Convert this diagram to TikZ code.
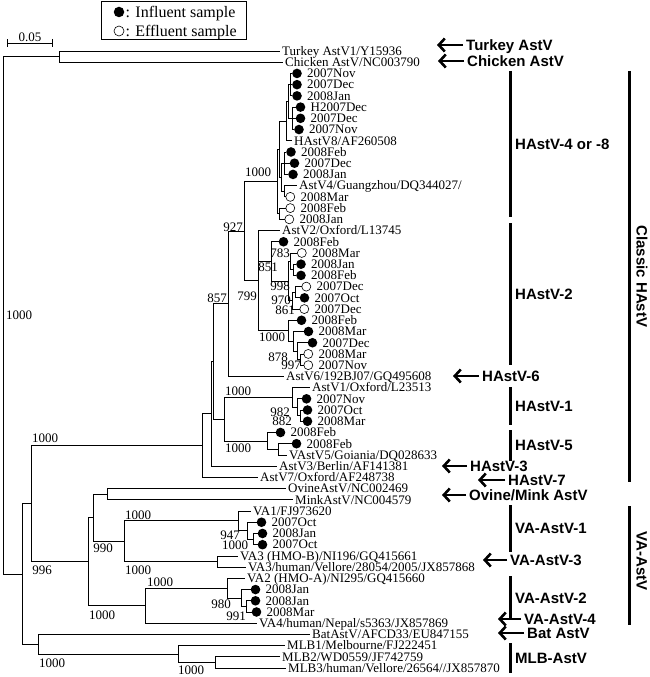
\documentclass[tikz,border=0pt]{standalone}
\usepackage{fontspec}
\setmainfont{Liberation Serif}
\newfontfamily\cladefont{Liberation Sans}
\usetikzlibrary{positioning,arrows.meta}

\begin{document}
\begin{tikzpicture}[
  x=1pt, y=-1pt,
  branch/.style={line width=0.8pt},
  taxon/.style={font=\fontsize{13}{13}\selectfont, inner sep=0pt,
                text height=8.6pt, text depth=0pt, anchor=west},
  boot/.style={font=\fontsize{13}{13}\selectfont, inner sep=0pt,
               text height=8.6pt, text depth=0pt},
  leaff/.style={circle, fill=black, minimum size=9.6pt, inner sep=0pt, anchor=west},
  leafo/.style={circle, draw=black, line width=0.6pt, minimum size=9pt,
                inner sep=0pt, anchor=west},
  leafn/.style={inner sep=0pt, minimum size=0pt, anchor=west},
  txtf/.style={xshift=15pt}, txto/.style={xshift=15pt}, txtn/.style={xshift=2pt},
  legtext/.style={font=\fontsize{16}{16}\selectfont, inner sep=0pt,
                  text height=10.6pt, text depth=0pt},
  clade/.style={font=\cladefont\bfseries\fontsize{15}{15}\selectfont,
                inner sep=0pt, text height=10.7pt, text depth=0pt},
  cladebar/.style={line width=3pt},
  cladearrow/.style={-{Straight Barb[length=6pt, width=13pt]}, line width=2.6pt,
                     shorten <=3pt},
]
\useasboundingbox (0,0) rectangle (650,677);

% ================= legend and scale =================
\node[draw, line width=1.2pt, minimum width=145.7pt, minimum height=37.6pt,
      inner sep=0pt] (legend) at (174,20.5) {};
\node[leaff, anchor=center, minimum size=10.5pt] (lg1) at (119,12) {};
\node[legtext, right=1pt of lg1] (lgt1) {: Influent sample};
\node[leafo, anchor=center, minimum size=10pt] (lg2) at (119,31) {};
\node[legtext, right=1pt of lg2] (lgt2) {: Effluent sample};

\coordinate (scaleL) at (7,43);
\coordinate (scaleR) at (53,43);
\draw[{Bar[width=8pt]}-{Bar[width=8pt]}, line width=0.8pt] (scaleL) -- (scaleR);
\node[boot] (scale) at (30,37.5) {0.05};

% ================= the tree (y in leaf rows) =================
\begin{scope}[shift={(0,51)}, y=-11.22pt]
  % leaves: row / tip x / sample kind / label
  \foreach \r/\x/\k/\lab in {
    0/280/n/{Turkey AstV1/Y15936}, 1/283/n/{Chicken AstV/NC003790},
    2/292/f/2007Nov, 3/292/f/2007Dec, 4/292/f/2008Jan,
    5/295.5/f/H2007Dec, 6/295.5/f/2007Dec, 7/294/f/2007Nov,
    8/292/n/{HAstV8/AF260508},
    9/286/f/2008Feb, 10/289.5/f/2007Dec, 11/288/f/2008Jan,
    12/297/n/{AstV4/Guangzhou/DQ344027/},
    13/285.5/o/2008Mar, 14/285.5/o/2008Feb, 15/284.5/o/2008Jan,
    16/280/n/{AstV2/Oxford/L13745},
    17/278.5/f/2008Feb, 18/297/o/2008Mar, 19/296/f/2008Jan, 20/296/f/2008Feb,
    21/301.5/o/2007Dec, 22/299.5/f/2007Oct, 23/299.5/o/2007Dec,
    24/296.5/f/2008Feb, 25/303.5/f/2008Mar, 26/307.5/f/2007Dec,
    27/303.5/o/2008Mar, 28/303.5/o/2007Nov,
    29/284/n/{AstV6/192BJ07/GQ495608},
    30/310/n/{AstV1/Oxford/L23513},
    31/301.5/f/2007Nov, 32/302.5/f/2007Oct, 33/302.5/f/2008Mar,
    34/275.5/f/2008Feb, 35/291.5/f/2008Feb,
    36/287/n/{VAstV5/Goiania/DQ028633},
    37/277/n/{AstV3/Berlin/AF141381}, 38/258/n/{AstV7/Oxford/AF248738},
    39/286/n/{OvineAstV/NC002469}, 40/293/n/{MinkAstV/NC004579},
    41/251/n/{VA1/FJ973620},
    42/256.5/f/2007Oct, 43/257.5/f/2008Jan, 44/257.5/f/2007Oct,
    45/238/n/{VA3 (HMO-B)/NI196/GQ415661},
    46/246/n/{VA3/human/Vellore/28054/2005/JX857868},
    47/245/n/{VA2 (HMO-A)/NI295/GQ415660},
    48/250.5/f/2008Jan, 49/250.5/f/2008Jan, 50/251.5/f/2008Mar,
    51/257/n/{VA4/human/Nepal/s5363/JX857869},
    52/310/n/{BatAstV/AFCD33/EU847155},
    53/285/n/{MLB1/Melbourne/FJ222451},
    54/280/n/{MLB2/WD0559/JF742759},
    55/286/n/{MLB3/human/Vellore/26564//JX857870}}{
    \coordinate (t\r) at (\x,\r);
    \node[leaf\k] (c\r) at (t\r) {};
    \node[taxon, txt\k] (l\r) at (t\r) {\lab};
  }

  % internal nodes
  \foreach \n/\x/\y in {
    root/3/23.554, avian/59/0.5, mamall/22/46.608, mammal/31/40.341,
    classic/202/35.167, classic2/211/32.334, classic3/213/27.668,
    hast6/228/22.523, hast482/244/16.047, hast48/277/11.625,
    n48a/290/3, n48b/292.5/6, n48c/288/4.5, n48d/286.5/6.25,
    n48e/284/10, n48f/284/12.5, n48g/281/11.25, n48h/279/8.75, n48i/279.5/14.5,
    hast2/258/20.469, n2a/293/19.5, n2b/290/18.75, n2d/295/21.5, n2f/292/22.25,
    n2e/288/20.5, n2c/271/18.75, n2j/300/27.5, n2i/297/26.75, n2h/293/25.875,
    n2g/288/24.938,
    hast15/224/32.813, hast1/292/30.875, h1a/297/31.75, h1b/300/32.5,
    hast5/267/34.75, h5a/278/35.5,
    vaall/88/45.516, ovva/93/41.594, ovmink/107/39.5,
    va13/124/43.688, va1/238/41.875, va1a/247/42.75, va1b/253/43.5, va3/217/45.5,
    va24/145/49.438, va2/227/47.875, va2a/241/48.75, va2b/246/49.5,
    batmlb/38/52.875, mlb/178/53.75, mlb23/215/54.5}
    \coordinate (\n) at (\x,\y);

  % branches, parent to child
  \foreach \p/\c in {
    root/avian, root/mamall, avian/t0, avian/t1,
    mamall/mammal, mamall/batmlb, mammal/classic, mammal/vaall,
    classic/classic2, classic/t38, classic2/classic3, classic2/t37,
    classic3/hast6, classic3/hast15, hast6/hast482, hast6/t29,
    hast482/hast48, hast482/hast2,
    hast48/n48h, hast48/n48i, n48h/n48d, n48h/n48g,
    n48d/n48c, n48d/t8, n48c/n48a, n48c/n48b,
    n48a/t2, n48a/t3, n48a/t4, n48b/t5, n48b/t6, n48b/t7,
    n48g/n48e, n48g/n48f, n48e/t9, n48e/t10, n48e/t11,
    n48f/t12, n48f/t13, n48i/t14, n48i/t15,
    hast2/t16, hast2/n2c, hast2/n2g,
    n2c/t17, n2c/n2e, n2e/n2b, n2e/n2f, n2b/t18, n2b/n2a,
    n2a/t19, n2a/t20, n2f/n2d, n2f/t23, n2d/t21, n2d/t22,
    n2g/t24, n2g/n2h, n2h/t25, n2h/n2i, n2i/t26, n2i/n2j, n2j/t27, n2j/t28,
    hast15/hast1, hast15/hast5, hast1/t30, hast1/h1a,
    h1a/t31, h1a/h1b, h1b/t32, h1b/t33,
    hast5/t34, hast5/h5a, h5a/t35, h5a/t36,
    vaall/ovva, vaall/va24, ovva/ovmink, ovva/va13,
    ovmink/t39, ovmink/t40, va13/va1, va13/va3,
    va1/t41, va1/va1a, va1a/t42, va1a/va1b, va1b/t43, va1b/t44,
    va3/t45, va3/t46,
    va24/va2, va24/t51, va2/t47, va2/va2a, va2a/t48, va2a/va2b,
    va2b/t49, va2b/t50,
    batmlb/t52, batmlb/mlb, mlb/t53, mlb/mlb23, mlb23/t54, mlb23/t55}
    \draw[branch] (\p) |- (\c);
\end{scope}

% bootstrap values
\foreach \x/\y/\v [count=\i] in {
  258/172/1000, 233/227/927, 280/253/783, 268/267/851, 217/298/857,
  247/296/799, 280/286/998, 281/300/970, 285/310/861, 272/337/1000,
  278/357/878, 291/365/997, 238/391/1000, 280/412/982, 282/421/882,
  238/448/1000, 45/438/1000, 19/315/1000, 138/515/1000, 230/535/947,
  235/545/1000, 103/548/990, 42/570/996, 138/570/1000, 160/582/1000,
  221/604/980, 236/616/991, 102/615/1000, 52/663/1000, 191/670.5/1000}
  \node[boot] (bs\i) at (\x,\y) {\v};

% ================= genotype labels =================
\foreach \n/\tx/\y/\lx/\t in {
  turkey/437/45/466/{Turkey AstV}, chicken/438/61/467/{Chicken AstV},
  hsix/453/376/482/HAstV-6, hthree/442/466/470/HAstV-3,
  hseven/478/480/508/HAstV-7, ovine/442/495/469/{Ovine/Mink AstV},
  vathree/483/560/510/VA-AstV-3, vafour/498/619/524/VA-AstV-4,
  bat/498/633/527/{Bat AstV}}{
  \coordinate (\n tip) at (\tx,\y);
  \node[clade, anchor=west] (\n) at (\lx,\y) {\t};
  \draw[cladearrow] (\n) -- (\n tip);
}

\foreach \n/\ya/\yb/\t in {
  hfour/71/217/{HAstV-4 or -8}, htwo/223/365/HAstV-2, hone/387/425/HAstV-1,
  hfive/430/461/HAstV-5, vaone/505/552/VA-AstV-1, vatwo/576/620/VA-AstV-2,
  mlbg/643/673/MLB-AstV}{
  \coordinate (\n top) at (510,\ya);
  \coordinate (\n bot) at (510,\yb);
  \draw[cladebar] (\n top) -- (\n bot);
  \node[clade, anchor=west] (\n lab) at (515,{(\ya+\yb)/2}) {\t};
}

% groups
\coordinate (chast top) at (629,71);
\coordinate (chast bot) at (629,482);
\draw[cladebar] (chast top) -- (chast bot);
\node[clade, rotate=-90] (chast) at (642,276.5) {Classic HAstV};
\coordinate (vaast top) at (629,506);
\coordinate (vaast bot) at (629,625);
\draw[cladebar] (vaast top) -- (vaast bot);
\node[clade, rotate=-90] (vaast) at (642,561) {VA-AstV};

\end{tikzpicture}
\end{document}
